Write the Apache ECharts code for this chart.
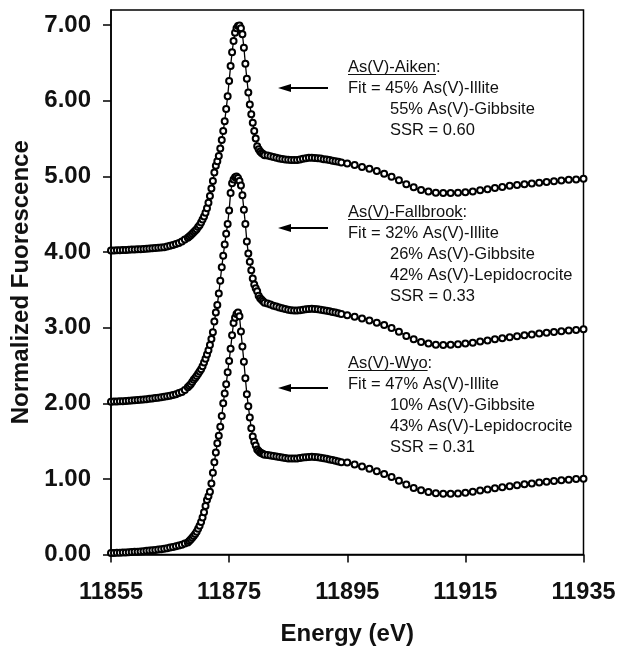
<!DOCTYPE html>
<html>
<head>
<meta charset="utf-8">
<script src="https://cdn.jsdelivr.net/npm/echarts@6/dist/echarts.min.js"></script>
<style>
html, body { margin: 0; padding: 0; background: #fff; }
#chart { width: 618px; height: 646px; }
</style>
</head>
<body>
<div id="chart"></div>
<script>
// energy grid (eV)
const energy = [
    11855, 11855.5, 11856, 11856.5, 11857, 11857.5, 11858, 11858.5, 11859, 11859.5,
    11860, 11860.5, 11861, 11861.5, 11862, 11862.5, 11863, 11863.5, 11864, 11864.5,
    11865, 11865.5, 11866, 11866.5, 11867, 11867.5,
    11868, 11868.25, 11868.5, 11868.75, 11869, 11869.25, 11869.5, 11869.75, 11870, 11870.25,
    11870.5, 11870.75, 11871, 11871.25, 11871.5, 11871.75, 11872, 11872.25, 11872.5, 11872.75,
    11873, 11873.25, 11873.5, 11873.75, 11874, 11874.25, 11874.5, 11874.75, 11875, 11875.25,
    11875.5, 11875.75, 11876, 11876.25, 11876.5, 11876.75, 11877, 11877.25, 11877.5, 11877.75,
    11878, 11878.25, 11878.5, 11878.75, 11879, 11879.25, 11879.5, 11879.75, 11880, 11880.25,
    11880.5, 11880.75, 11881,
    11881.5, 11882, 11882.5, 11883, 11883.5, 11884, 11884.5, 11885, 11885.5, 11886,
    11886.5, 11887, 11887.5, 11888, 11888.5, 11889, 11889.5, 11890, 11890.5, 11891,
    11891.5, 11892, 11892.5, 11893, 11893.5, 11894,
    11895, 11896.25, 11897.5, 11898.75, 11900, 11901.25, 11902.5, 11903.75, 11905, 11906.25,
    11907.5, 11908.75, 11910, 11911.25, 11912.5, 11913.75, 11915, 11916.25, 11917.5, 11918.75,
    11920, 11921.25, 11922.5, 11923.75, 11925, 11926.25, 11927.5, 11928.75, 11930, 11931.25,
    11932.5, 11933.75, 11935
]

// normalized fluorescence, before vertical offset
const aiken = [
    0.02, 0.02, 0.022, 0.024, 0.026, 0.028, 0.03, 0.032, 0.034, 0.036,
    0.038, 0.04, 0.043, 0.046, 0.049, 0.052, 0.056, 0.06, 0.064, 0.073,
    0.082, 0.093, 0.105, 0.12, 0.14, 0.165,
    0.19, 0.205, 0.22, 0.24, 0.26, 0.28, 0.30, 0.33, 0.355, 0.39,
    0.43, 0.47, 0.52, 0.58, 0.65, 0.74, 0.84, 0.94, 1.05, 1.14,
    1.20, 1.27, 1.37, 1.48, 1.60, 1.73, 1.89, 2.06, 2.26, 2.46,
    2.64, 2.79, 2.90, 2.96, 2.99, 2.995, 2.96, 2.88, 2.70, 2.49,
    2.29, 2.11, 1.95, 1.82, 1.71, 1.60, 1.50, 1.40, 1.36, 1.33,
    1.31, 1.295, 1.28,
    1.275, 1.265, 1.255, 1.245, 1.237, 1.23, 1.224, 1.219, 1.215, 1.215,
    1.218, 1.224, 1.232, 1.24, 1.245, 1.246, 1.244, 1.24, 1.235, 1.228,
    1.222, 1.215, 1.208, 1.20, 1.192, 1.185,
    1.17, 1.15, 1.125, 1.10, 1.07, 1.035, 0.995, 0.95, 0.895, 0.855,
    0.82, 0.80, 0.785, 0.78, 0.78, 0.785, 0.79, 0.80, 0.815, 0.83,
    0.845, 0.86, 0.875, 0.885, 0.895, 0.905, 0.915, 0.925, 0.935, 0.945,
    0.955, 0.96, 0.97
]
const fallbrook = [
    0.02, 0.022, 0.024, 0.026, 0.028, 0.03, 0.033, 0.036, 0.039, 0.042,
    0.046, 0.05, 0.054, 0.058, 0.063, 0.068, 0.073, 0.079, 0.086, 0.094,
    0.10, 0.11, 0.12, 0.135, 0.15, 0.175,
    0.21, 0.23, 0.25, 0.28, 0.31, 0.335, 0.36, 0.39, 0.42, 0.45,
    0.49, 0.54, 0.59, 0.645, 0.70, 0.77, 0.85, 0.94, 1.08, 1.20,
    1.30, 1.45, 1.62, 1.80, 1.95, 2.10, 2.24, 2.37, 2.55, 2.78,
    2.91, 2.96, 2.99, 3.0, 2.98, 2.94, 2.88, 2.75, 2.56, 2.37,
    2.14, 1.98, 1.87, 1.76, 1.65, 1.57, 1.52, 1.48, 1.42, 1.39,
    1.37, 1.35, 1.33,
    1.32, 1.305, 1.29, 1.278, 1.266, 1.256, 1.246, 1.237, 1.23, 1.226,
    1.226, 1.23, 1.236, 1.242, 1.246, 1.248, 1.246, 1.242, 1.236, 1.23,
    1.222, 1.215, 1.208, 1.20, 1.19, 1.18,
    1.165, 1.145, 1.12, 1.095, 1.065, 1.035, 0.995, 0.945, 0.89, 0.845,
    0.81, 0.79, 0.775, 0.77, 0.772, 0.78, 0.79, 0.80, 0.815, 0.83,
    0.845, 0.86, 0.873, 0.886, 0.898, 0.91, 0.922, 0.933, 0.943, 0.953,
    0.962, 0.97, 0.978
]
const wyo = [
    0.02, 0.021, 0.022, 0.024, 0.026, 0.028, 0.03, 0.032, 0.035, 0.038,
    0.041, 0.044, 0.048, 0.052, 0.056, 0.061, 0.066, 0.071, 0.077, 0.084,
    0.092, 0.10, 0.11, 0.12, 0.13, 0.145,
    0.16, 0.18, 0.20, 0.22, 0.245, 0.27, 0.30, 0.34, 0.38, 0.43,
    0.49, 0.56, 0.64, 0.72, 0.77, 0.83, 0.94, 1.08, 1.22, 1.35,
    1.47, 1.57, 1.69, 1.83, 2.00, 2.13, 2.25, 2.41, 2.56, 2.72,
    2.90, 3.06, 3.13, 3.18, 3.20, 3.15, 2.95, 2.75, 2.55, 2.33,
    2.12, 1.96, 1.81, 1.67, 1.56, 1.49, 1.44, 1.39, 1.37, 1.35,
    1.34, 1.33, 1.32,
    1.315, 1.31, 1.303, 1.296, 1.289, 1.282, 1.276, 1.271, 1.268, 1.268,
    1.271, 1.276, 1.282, 1.287, 1.29, 1.291, 1.289, 1.285, 1.279, 1.272,
    1.265, 1.257, 1.249, 1.24, 1.23, 1.22,
    1.215, 1.19, 1.165, 1.135, 1.10, 1.065, 1.025, 0.975, 0.925, 0.88,
    0.848, 0.825, 0.81, 0.803, 0.803, 0.808, 0.818, 0.83, 0.845, 0.86,
    0.875, 0.89, 0.903, 0.916, 0.928, 0.94, 0.952, 0.963, 0.973, 0.982,
    0.99, 0.997, 1.003
]
const sampleNames = ['As(V)-Aiken', 'As(V)-Fallbrook', 'As(V)-Wyo']
const offsets = [4, 2, 0]

const xTicks = [11855, 11875, 11895, 11915, 11935]
const yTicks = [0, 1, 2, 3, 4, 5, 6, 7]

const fitLines = [
    ['Fit = 45% As(V)-Illite', '55% As(V)-Gibbsite', 'SSR = 0.60'],
    ['Fit = 32% As(V)-Illite', '26% As(V)-Gibbsite', '42% As(V)-Lepidocrocite', 'SSR = 0.33'],
    ['Fit = 47% As(V)-Illite', '10% As(V)-Gibbsite', '43% As(V)-Lepidocrocite', 'SSR = 0.31']
]

const FONT = '"Liberation Sans", Arial, Helvetica, sans-serif'

function toPoints(values, off){
    return energy.map((e, i) => [e, values[i] + off])
}

function textWidth(str, size){
    const ctx = document.createElement('canvas').getContext('2d')
    ctx.font = size + 'px ' + FONT
    return ctx.measureText(str).width
}

// annotation blocks: top line y and arrow y (pixels)
const blockTop = [67, 212, 363]
const arrowY = [88, 228, 388]
const graphics = []
sampleNames.forEach((name, k) => {
    let y0 = blockTop[k]
    graphics.push({
        type: 'text', z: 100,
        style: { text: name + ':', x: 348, y: y0, fontSize: 16.5, fontFamily: FONT, fill: '#111', verticalAlign: 'middle' }
    })
    graphics.push({
        type: 'line', z: 100,
        shape: { x1: 348, y1: y0 + 7.5, x2: 348 + textWidth(name, 16.5), y2: y0 + 7.5 },
        style: { stroke: '#111', lineWidth: 1.2 }
    })
    fitLines[k].forEach((t, j) => {
        graphics.push({
            type: 'text', z: 100,
            style: { text: t, x: j === 0 ? 348 : 390, y: y0 + 21 * (j + 1), fontSize: 16.5, fontFamily: FONT, fill: '#111', verticalAlign: 'middle' }
        })
    })
    // arrow
    graphics.push({
        type: 'line', z: 100,
        shape: { x1: 286, y1: arrowY[k], x2: 328, y2: arrowY[k] },
        style: { stroke: '#000', lineWidth: 2 }
    })
    graphics.push({
        type: 'polygon', z: 100,
        shape: { points: [[278, arrowY[k]], [291, arrowY[k] - 4], [291, arrowY[k] + 4]] },
        style: { fill: '#000' }
    })
})

const series = [aiken, fallbrook, wyo].map((vals, k) => ({
    name: sampleNames[k],
    type: 'line',
    data: toPoints(vals, offsets[k]),
    symbol: 'emptyCircle',
    symbolSize: 6,
    showSymbol: true,
    showAllSymbol: true,
    animation: false,
    lineStyle: { color: '#000', width: 1.3 },
    itemStyle: { color: '#000', borderColor: '#000', borderWidth: 1.2 },
    z: 3
}))

const option = {
    backgroundColor: '#fff',
    animation: false,
    grid: {
        left: 111,
        right: 34.5,
        top: 10,
        bottom: 91.5,
        outerBoundsMode: 'none',
        containLabel: false,
        show: true,
        borderColor: '#000',
        borderWidth: 1.5,
        backgroundColor: 'transparent'
    },
    xAxis: {
        type: 'value',
        min: 11855,
        max: 11935,
        name: 'Energy (eV)',
        nameLocation: 'middle',
        nameGap: 68,
        nameTextStyle: { fontSize: 24, fontWeight: 'bold', color: '#111', fontFamily: FONT },
        axisLine: { onZero: false, lineStyle: { color: '#000', width: 1.5 } },
        axisTick: { show: true, inside: false, length: 8, customValues: xTicks, lineStyle: { color: '#000', width: 1.5 } },
        axisLabel: {
            customValues: xTicks,
            margin: 26,
            fontSize: 23.5,
            fontWeight: 'bold',
            color: '#111',
            fontFamily: FONT,
            formatter: v => String(v)
        },
        splitLine: { show: false }
    },
    yAxis: {
        type: 'value',
        min: 0,
        max: 7.2,
        name: 'Normalized Fuorescence',
        nameLocation: 'middle',
        nameGap: 74,
        nameTextStyle: { fontSize: 24, fontWeight: 'bold', color: '#111', fontFamily: FONT },
        axisLine: { onZero: false, lineStyle: { color: '#000', width: 1.5 } },
        axisTick: { show: true, inside: false, length: 8, customValues: yTicks, lineStyle: { color: '#000', width: 1.5 } },
        axisLabel: {
            customValues: yTicks,
            margin: 20,
            fontSize: 24,
            fontWeight: 'bold',
            color: '#111',
            fontFamily: FONT,
            formatter: v => Number(v).toFixed(2)
        },
        splitLine: { show: false }
    },
    graphic: graphics,
    series: series
}

const myChart = echarts.init(document.getElementById('chart'), null, { renderer: 'canvas' })
myChart.setOption(option)
</script>
</body>
</html>
